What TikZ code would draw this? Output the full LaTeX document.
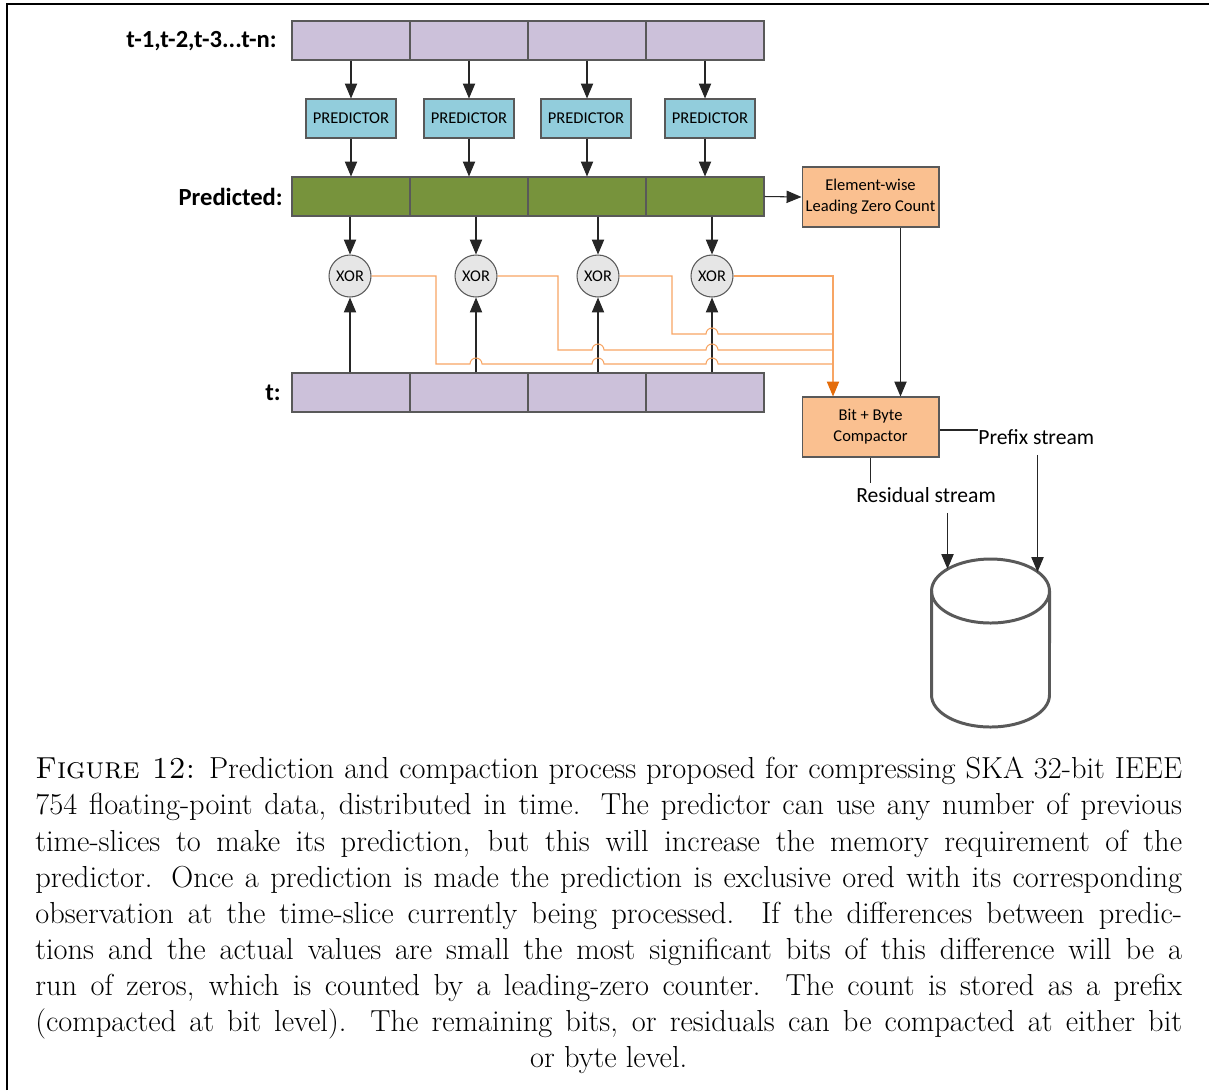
\documentclass[tikz,border=0pt]{standalone}
\usepackage{fontspec}
\newfontfamily\diagfont{Carlito}
\usetikzlibrary{arrows.meta,positioning,calc}

\definecolor{slotlilac}{RGB}{204,193,218}
\definecolor{slotgreen}{RGB}{119,147,60}
\definecolor{predblue}{RGB}{146,205,220}
\definecolor{unitpeach}{RGB}{250,192,144}
\definecolor{xorgray}{RGB}{230,230,230}
\definecolor{edgegray}{RGB}{89,89,89}
\definecolor{wireorange}{RGB}{247,165,100}
\definecolor{tiporange}{RGB}{228,108,10}

\begin{document}
\begin{tikzpicture}[
    x=0.02cm, y=-0.02cm,
    slot/.style={
        rectangle,
        draw=edgegray,
        line width=0.6pt,
        minimum width=2.36cm,
        minimum height=0.78cm,
        inner sep=0pt
    },
    predictor/.style={
        rectangle,
        draw=edgegray,
        line width=0.6pt,
        fill=predblue,
        minimum width=1.8cm,
        minimum height=0.78cm,
        inner sep=0pt,
        font=\diagfont\fontsize{9.4}{11}\selectfont
    },
    unit/.style={
        rectangle,
        draw=edgegray,
        line width=0.6pt,
        fill=unitpeach,
        minimum width=2.74cm,
        minimum height=1.2cm,
        inner sep=0pt,
        align=center,
        font=\diagfont\fontsize{9.4}{12}\selectfont
    },
    xorgate/.style={
        circle,
        draw=edgegray,
        line width=0.6pt,
        fill=xorgray,
        minimum size=0.84cm,
        inner sep=0pt,
        font=\diagfont\fontsize{9.3}{10}\selectfont
    },
    rowlabel/.style={
        anchor=east,
        inner sep=0pt,
        font=\diagfont\bfseries\fontsize{14}{16}\selectfont
    },
    streamlabel/.style={
        inner sep=0pt,
        font=\diagfont\fontsize{12.3}{14}\selectfont
    },
    flow/.style={
        black!85,
        line width=0.6pt,
        -{Triangle[length=8.5pt,width=7pt]}
    },
    wire/.style={
        wireorange,
        line width=0.6pt
    }
]
\useasboundingbox (0,0) rectangle (1209,1090);

% Frame
\draw[line width=1.1pt] (7,1090) -- (7,4) -- (1209,4);

% Previous time-slices
\foreach \i in {1,2,3,4}
    \node[slot, fill=slotlilac] (prev\i) at (233+118*\i,40.5) {};
\node[rowlabel] (prevlbl) at (277,41) {t-1,t-2,t-3...t-n:};

% Predictors
\node[predictor] (pred1) at (351,118.5) {PREDICTOR};
\node[predictor] (pred2) at (469,118.5) {PREDICTOR};
\node[predictor] (pred3) at (586,118.5) {PREDICTOR};
\node[predictor] (pred4) at (710,118.5) {PREDICTOR};

% Predicted values
\foreach \i in {1,2,3,4}
    \node[slot, fill=slotgreen] (pdd\i) at (233+118*\i,196.5) {};
\node[rowlabel] (pddlbl) at (283,197) {Predicted:};

% XOR gates
\node[xorgate] (xor1) at (350,276) {XOR};
\node[xorgate] (xor2) at (476,276) {XOR};
\node[xorgate] (xor3) at (598,276) {XOR};
\node[xorgate] (xor4) at (712,276) {XOR};

% Current time-slice
\foreach \i in {1,2,3,4}
    \node[slot, fill=slotlilac] (cur\i) at (233+118*\i,392.5) {};
\node[rowlabel] (curlbl) at (281,393) {t:};

% Leading zero count and compactor
\node[unit] (lzc) at (870.5,197) {Element-wise\\Leading Zero Count};
\node[unit] (cmp) at (870.5,427) {Bit + Byte\\Compactor};

% Stream labels
\node[streamlabel, anchor=west] (pfx) at (978,437) {Prefix stream};
\node[streamlabel] (res) at (926,495) {Residual stream};

% Storage
\coordinate (resin) at (947.5,569);
\coordinate (pfxin) at (1037.5,572);
\draw[edgegray, line width=1.7pt] (931.5,591) -- (931.5,695)
    arc[start angle=180, end angle=360, x radius=1.18cm, y radius=0.64cm]
    -- (1049.5,591);
\draw[edgegray, line width=1.7pt] (990.5,591) ellipse [x radius=1.18cm, y radius=0.64cm];

% Slices -> predictors -> predicted
\foreach \i in {1,2,3,4} {
    \draw[flow] (prev\i.south) -- (prev\i.south |- pred\i.north);
    \draw[flow] (pdd\i.north |- pred\i.south) -- (pdd\i.north);
}

% Predicted and current -> XOR
\foreach \i in {1,2,3,4} {
    \draw[flow] (xor\i.north |- pdd\i.south) -- (xor\i.north);
    \draw[flow] (xor\i.south |- cur\i.north) -- (xor\i.south);
}

% XOR outputs -> compactor
\coordinate (merge) at ([xshift=-0.75cm]cmp.north);
\draw[wire] (xor1.east) -| (436,364) -- (470,364)
    arc[start angle=180, end angle=0, radius=0.12cm] -- (592,364)
    arc[start angle=180, end angle=0, radius=0.12cm] -- (706,364)
    arc[start angle=180, end angle=0, radius=0.12cm] -- (833,364);
\draw[wire] (xor2.east) -| (558,350) -- (592,350)
    arc[start angle=180, end angle=0, radius=0.12cm] -- (706,350)
    arc[start angle=180, end angle=0, radius=0.12cm] -- (833,350);
\draw[wire] (xor3.east) -| (672,334) -- (706,334)
    arc[start angle=180, end angle=0, radius=0.12cm] -- (833,334);
\draw[wire, -{Triangle[length=8.5pt,width=7pt,color=tiporange]}] (xor4.east) -| (merge);

% Predicted -> LZC -> compactor
\draw[flow] (pdd4.east) -- (lzc.west);
\draw[flow] ([xshift=0.6cm]lzc.south) -- ([xshift=0.6cm]cmp.north);

% Compactor -> streams -> storage
\draw[black!85, line width=0.6pt] ([yshift=-0.06cm]cmp.east) -- ([yshift=-0.06cm]cmp.east -| pfx.west);
\draw[flow] (pfx.south -| pfxin) ++(0,-0.2cm) -- (pfxin);
\draw[black!85, line width=0.6pt] (cmp.south) -- ++(0,-0.5cm);
\draw[flow] (res.south -| resin) ++(0,-0.2cm) -- (resin);

% Caption
\node[anchor=north west, inner sep=0pt,
      font=\fontsize{17.3}{20.55}\selectfont] (cap) at (35,757)
    {\begin{minipage}{22.94cm}
     \tolerance=9999
     \leftskip=0pt plus 1fil\rightskip=0pt plus -1fil\parfillskip=0pt plus 2fil
     \textsc{Figure 12:} Prediction and compaction process proposed for compressing SKA 32-bit IEEE\linebreak
     754 floating-point data, distributed in time. The predictor can use any number of previous\linebreak
     time-slices to make its prediction, but this will increase the memory requirement of the\linebreak
     predictor. Once a prediction is made the prediction is exclusive ored with its corresponding\linebreak
     observation at the time-slice currently being processed. If the differences between predic-\linebreak
     tions and the actual values are small the most significant bits of this difference will be a\linebreak
     run of zeros, which is counted by a leading-zero counter. The count is stored as a prefix\linebreak
     (compacted at bit level). The remaining bits, or residuals can be compacted at either bit\linebreak
     or byte level.\par
     \end{minipage}};

\end{tikzpicture}
\end{document}
